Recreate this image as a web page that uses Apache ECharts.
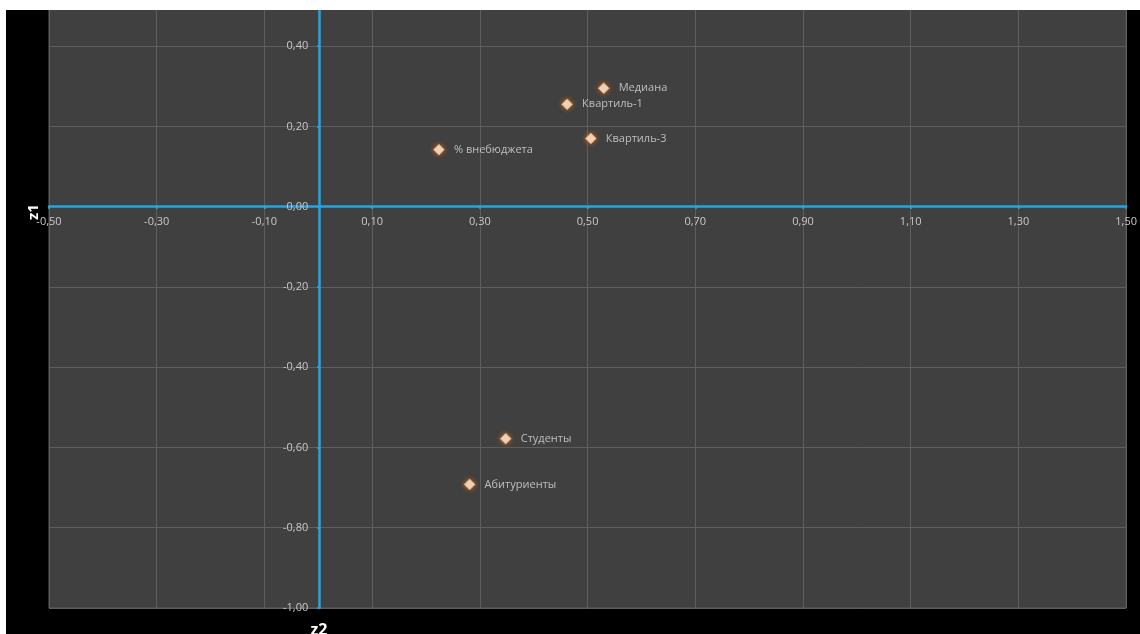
<!DOCTYPE html>
<html>
<head>
<meta charset="utf-8">
<script src="https://cdn.jsdelivr.net/npm/echarts@6/dist/echarts.min.js"></script>
<style>
  html, body { margin: 0; padding: 0; background: #fff; }
  #chart { width: 1140px; height: 634px; }
</style>
</head>
<body>
<div id="chart"></div>
<script>
// точки: подписи и координаты (z2, z1)
const names = ['Медиана', 'Квартиль-1', 'Квартиль-3', '% внебюджета', 'Студенты', 'Абитуриенты']
const z2Values = [0.53, 0.462, 0.506, 0.224, 0.348, 0.281]
const z1Values = [0.295, 0.255, 0.170, 0.142, -0.578, -0.692]

const fmt = v => v.toFixed(2).replace('.', ',')

const points = names.map((n, i) => ({ name: n, value: [z2Values[i], z1Values[i]] }))

// размеры сетки, оси проходят через ноль
const gridLeft = 49, gridRight = 10, gridTop = 6, gridBottom = 26
const gridW = 1140 - gridLeft - gridRight
const gridH = 634 - gridTop - gridBottom
const xZeroOffset = -(0.5 / 2) * gridW      // от левого края до x=0
const yZeroOffset = -(1 / 1.5) * gridH      // от нижнего края до y=0

const myChart = echarts.init(document.getElementById('chart'))

const option = {
  backgroundColor: '#000',
  animation: false,
  textStyle: { fontFamily: '"Open Sans", "DejaVu Sans", sans-serif' },
  grid: {
    left: gridLeft, right: gridRight, top: gridTop, bottom: gridBottom,
    show: true,
    backgroundColor: '#404040',
    borderColor: '#5c5c5c',
    borderWidth: 1
  },
  xAxis: {
    type: 'value',
    min: -0.5, max: 1.5, interval: 0.2,
    offset: yZeroOffset,
    axisLine: { onZero: false, lineStyle: { color: '#1ea7e8', width: 2.5 } },
    axisTick: { show: true, length: 2, lineStyle: { color: '#1ea7e8', width: 2 } },
    axisLabel: { color: '#c8c8c8', fontSize: 11, margin: 10, formatter: fmt },
    splitLine: { lineStyle: { color: '#5e5e5e', width: 1 } }
  },
  yAxis: {
    type: 'value',
    min: -1, max: 0.5, interval: 0.2,
    offset: xZeroOffset,
    axisLine: { onZero: false, lineStyle: { color: '#1ea7e8', width: 2.5 } },
    axisTick: { show: true, length: 2, lineStyle: { color: '#1ea7e8', width: 2 } },
    axisLabel: {
      color: '#c8c8c8', fontSize: 11, margin: 11,
      formatter: v => (v > 0.45 ? '' : fmt(v))
    },
    splitLine: { lineStyle: { color: '#5e5e5e', width: 1 } }
  },
  series: [{
    type: 'scatter',
    data: points,
    symbol: 'diamond',
    symbolSize: 11,
    z: 5,
    itemStyle: {
      color: '#ffffff',
      borderColor: '#e8964a',
      borderWidth: 1,
      shadowColor: 'rgba(225,110,20,1)',
      shadowBlur: 5
    },
    label: {
      show: true,
      position: 'right',
      distance: 9,
      formatter: p => p.name,
      color: '#dcdcdc',
      fontSize: 11
    }
  }],
  graphic: [
    { type: 'rect', left: 0, top: 0, shape: { width: 1140, height: 10 }, style: { fill: '#fff' }, z: 100 },
    { type: 'rect', left: 0, top: 0, shape: { width: 6, height: 634 }, style: { fill: '#fff' }, z: 100 },
    {
      type: 'text', x: 34, y: 212, rotation: Math.PI / 2, z: 100,
      style: { text: 'z1', fill: '#fff', font: 'bold 15px "Open Sans", sans-serif', align: 'center', verticalAlign: 'middle' }
    },
    {
      type: 'text', x: 319, y: 630, z: 100,
      style: { text: 'z2', fill: '#fff', font: 'bold 16px "Open Sans", sans-serif', align: 'center', verticalAlign: 'middle' }
    }
  ]
}

myChart.setOption(option)
</script>
</body>
</html>
